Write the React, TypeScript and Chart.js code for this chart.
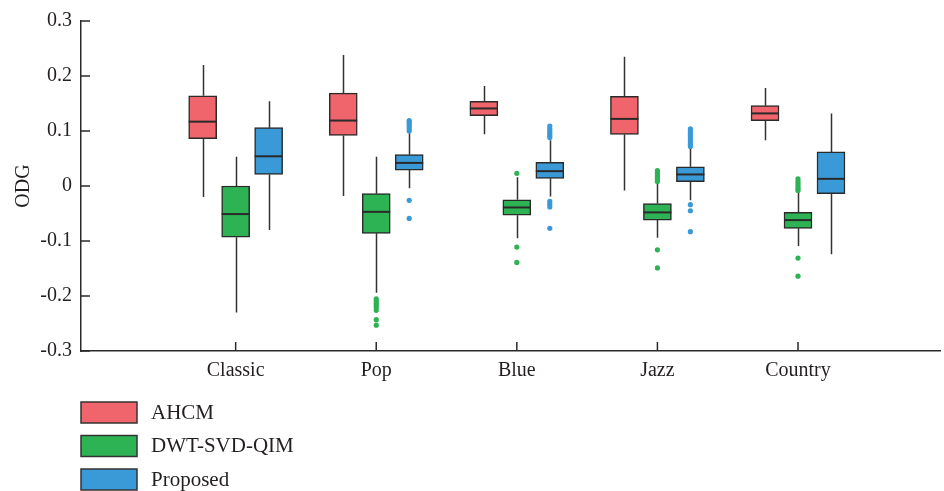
import React, { useEffect, useRef } from "react";
import { Chart, registerables } from "chart.js";
Chart.register(...registerables);

const categories = ["Classic", "Pop", "Blue", "Jazz", "Country"];
const seriesNames = ["AHCM", "DWT-SVD-QIM", "Proposed"];
const seriesColors = ["#F0646B", "#2DB354", "#3A9AD8"];
const yTicks = [-0.3, -0.2, -0.1, 0, 0.1, 0.2, 0.3];

// AHCM
const ahcmMin = [-0.02, -0.018, 0.094, -0.008, 0.083];
const ahcmQ1 = [0.086, 0.092, 0.128, 0.094, 0.119];
const ahcmMed = [0.117, 0.119, 0.141, 0.122, 0.132];
const ahcmQ3 = [0.164, 0.169, 0.154, 0.163, 0.146];
const ahcmMax = [0.22, 0.238, 0.182, 0.235, 0.178];
const ahcmOut: number[][] = [[], [], [], [], []];

// DWT-SVD-QIM
const dwtMin = [-0.23, -0.194, -0.095, -0.094, -0.109];
const dwtQ1 = [-0.093, -0.086, -0.053, -0.062, -0.077];
const dwtMed = [-0.051, -0.047, -0.039, -0.048, -0.062];
const dwtQ3 = [0.0, -0.014, -0.025, -0.032, -0.048];
const dwtMax = [0.053, 0.053, 0.016, 0.005, -0.01];
const dwtOut: number[][] = [
  [],
  [-0.205, -0.209, -0.213, -0.217, -0.221, -0.226, -0.243, -0.253],
  [0.023, -0.111, -0.139],
  [0.008, 0.012, 0.016, 0.02, 0.024, 0.028, -0.116, -0.149],
  [-0.008, -0.004, 0.0, 0.004, 0.008, 0.013, -0.131, -0.164],
];

// Proposed
const propMin = [-0.08, -0.004, -0.019, -0.026, -0.124];
const propQ1 = [0.021, 0.029, 0.014, 0.008, -0.014];
const propMed = [0.054, 0.042, 0.027, 0.021, 0.013];
const propQ3 = [0.106, 0.057, 0.043, 0.035, 0.062];
const propMax = [0.154, 0.096, 0.083, 0.07, 0.132];
const propOut: number[][] = [
  [],
  [0.1, 0.104, 0.108, 0.112, 0.116, 0.119, -0.026, -0.059],
  [0.088, 0.092, 0.096, 0.1, 0.104, 0.109, -0.028, -0.033, -0.038, -0.077],
  [0.072, 0.076, 0.08, 0.084, 0.088, 0.092, 0.096, 0.1, 0.104, -0.034, -0.045, -0.083],
  [],
];

const stats = [
  { min: ahcmMin, q1: ahcmQ1, med: ahcmMed, q3: ahcmQ3, max: ahcmMax, out: ahcmOut },
  { min: dwtMin, q1: dwtQ1, med: dwtMed, q3: dwtQ3, max: dwtMax, out: dwtOut },
  { min: propMin, q1: propQ1, med: propMed, q3: propQ3, max: propMax, out: propOut },
];

const GROUP_OFFSET = 0.2346;
const FONT = "'Liberation Serif', 'DejaVu Serif', serif";
const DARK = "#2a2a2a";
const TEXT = "#231f20";

export default function App() {
  const ref = useRef<HTMLCanvasElement>(null);
  useEffect(() => {
    document.body.style.margin = "0";
    const xPos = (ci: number, si: number) => ci + 1 + (si - 1) * GROUP_OFFSET;

    const datasets: any[] = [];
    stats.forEach((s, si) => {
      datasets.push({
        type: "bar",
        label: seriesNames[si],
        data: categories.map((_, ci) => ({ x: xPos(ci, si), y: [s.q1[ci], s.q3[ci]] })),
        backgroundColor: seriesColors[si],
        borderColor: DARK,
        borderWidth: 1.5,
        borderSkipped: false,
        barThickness: 28,
        grouped: false,
        order: 1,
      });
    });
    stats.forEach((s, si) => {
      const pts: any[] = [];
      categories.forEach((_, ci) => s.out[ci].forEach((v) => pts.push({ x: xPos(ci, si), y: v })));
      datasets.push({
        type: "scatter",
        label: seriesNames[si] + " outliers",
        data: pts,
        backgroundColor: seriesColors[si],
        borderColor: seriesColors[si],
        pointRadius: 2.6,
        borderWidth: 0,
        order: 0,
      });
    });

    const boxPlugin = {
      id: "boxParts",
      beforeDatasetsDraw(chart: any) {
        const ctx = chart.ctx;
        const xs = chart.scales.x;
        const ys = chart.scales.y;
        ctx.save();
        ctx.strokeStyle = "#333";
        ctx.lineWidth = 1.5;
        stats.forEach((s, si) => {
          categories.forEach((_, ci) => {
            const px = Math.round(xs.getPixelForValue(xPos(ci, si))) + 0.5;
            ctx.beginPath();
            ctx.moveTo(px, ys.getPixelForValue(s.max[ci]));
            ctx.lineTo(px, ys.getPixelForValue(s.q3[ci]));
            ctx.moveTo(px, ys.getPixelForValue(s.q1[ci]));
            ctx.lineTo(px, ys.getPixelForValue(s.min[ci]));
            ctx.stroke();
          });
        });
        ctx.restore();
      },
      afterDatasetsDraw(chart: any) {
        const ctx = chart.ctx;
        const xs = chart.scales.x;
        const ys = chart.scales.y;
        ctx.save();
        ctx.strokeStyle = DARK;
        ctx.lineWidth = 2;
        stats.forEach((s, si) => {
          categories.forEach((_, ci) => {
            const px = xs.getPixelForValue(xPos(ci, si));
            const py = ys.getPixelForValue(s.med[ci]);
            ctx.beginPath();
            ctx.moveTo(px - 14, py);
            ctx.lineTo(px + 14, py);
            ctx.stroke();
          });
        });
        // inward ticks
        ctx.strokeStyle = DARK;
        ctx.lineWidth = 1.5;
        const left = chart.chartArea.left;
        const bottom = chart.chartArea.bottom;
        yTicks.forEach((v) => {
          const py = ys.getPixelForValue(v);
          ctx.beginPath();
          ctx.moveTo(left, py);
          ctx.lineTo(left + 9, py);
          ctx.stroke();
        });
        categories.forEach((_, ci) => {
          const px = xs.getPixelForValue(ci + 1);
          ctx.beginPath();
          ctx.moveTo(px, bottom);
          ctx.lineTo(px, bottom - 9);
          ctx.stroke();
        });
        // legend
        ctx.font = "21px " + FONT;
        ctx.textBaseline = "middle";
        ctx.textAlign = "left";
        seriesNames.forEach((name, si) => {
          const y0 = bottom + 51 + si * 33.5;
          ctx.fillStyle = seriesColors[si];
          ctx.fillRect(left, y0, 56, 21);
          ctx.strokeStyle = "#333";
          ctx.lineWidth = 1.5;
          ctx.strokeRect(left, y0, 56, 21);
          ctx.fillStyle = TEXT;
          ctx.fillText(name, left + 70, y0 + 11);
        });
        ctx.restore();
      },
    };

    const chart = new Chart(ref.current!, {
      type: "bar",
      data: { datasets },
      options: {
        animation: false,
        responsive: false,
        maintainAspectRatio: false,
        layout: { padding: { top: 17, right: 0, left: 0, bottom: 0 } },
        plugins: { legend: { display: false }, tooltip: { enabled: false } },
        scales: {
          x: {
            type: "linear",
            offset: false,
            min: -0.1,
            max: 6.01,
            grid: { display: false, drawTicks: false, offset: false },
            border: { display: true, color: DARK, width: 1.5 },
            afterBuildTicks: (scale: any) => {
              scale.ticks = categories.map((_, i) => ({ value: i + 1 }));
            },
            afterFit: (scale: any) => {
              scale.height = 140;
            },
            ticks: {
              autoSkip: false,
              maxRotation: 0,
              padding: 8,
              color: TEXT,
              font: { family: FONT, size: 20 },
              callback: (v: any) => categories[Math.round(v) - 1] ?? "",
            },
          },
          y: {
            type: "linear",
            min: -0.3,
            max: 0.3,
            grid: { display: false, drawTicks: false },
            border: { display: true, color: DARK, width: 1.5 },
            afterBuildTicks: (scale: any) => {
              scale.ticks = yTicks.map((v) => ({ value: v }));
            },
            afterFit: (scale: any) => {
              scale.width = 81;
            },
            title: {
              display: true,
              text: "ODG",
              color: TEXT,
              font: { family: FONT, size: 20 },
              padding: { top: 12, bottom: 0 },
            },
            ticks: {
              padding: 9,
              color: TEXT,
              font: { family: FONT, size: 20 },
              callback: (v: any) => String(Number(Number(v).toFixed(1))),
            },
          },
        },
      },
      plugins: [boxPlugin],
    } as any);
    return () => chart.destroy();
  }, []);
  return (
    <div style={{ width: 944, height: 491, background: "#fff" }}>
      <canvas ref={ref} width={944} height={491} style={{ display: "block" }} />
    </div>
  );
}
